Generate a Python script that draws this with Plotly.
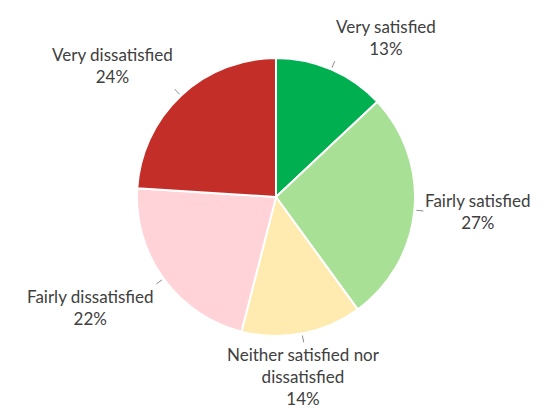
import numpy as np
import plotly.graph_objects as go

categories = ["Very satisfied", "Fairly satisfied", "Neither satisfied nor<br>dissatisfied",
              "Fairly dissatisfied", "Very dissatisfied"]
values = [13, 27, 14, 22, 24]
colors = ["#00B050", "#A8E095", "#FFEBB0", "#FFD3D7", "#C42E28"]

W, H = 543, 412
CX, CY, R = 276, 197, 139  # pie centre / radius in pixels

fig = go.Figure(go.Pie(
    labels=categories, values=values, sort=False, direction="clockwise", rotation=0,
    marker=dict(colors=colors, line=dict(color="white", width=2)),
    textinfo="none", hoverinfo="label+percent", showlegend=False,
    domain=dict(x=[(CX - R) / W, (CX + R) / W], y=[(H - CY - R) / H, (H - CY + R) / H]),
))

vals = np.array(values, dtype=float)
frac = vals / vals.sum()
mids = (np.cumsum(frac) - frac / 2) * 2 * np.pi  # clockwise from 12 o'clock

def px(x, y):
    return x / W, 1 - y / H

annotations, shapes = [], []
for cat, f, a in zip(categories, frac, mids):
    dx, dy = np.sin(a), -np.cos(a)
    # leader tick
    x0, y0 = px(CX + (R + 2) * dx, CY + (R + 2) * dy)
    x1, y1 = px(CX + (R + 9) * dx, CY + (R + 9) * dy)
    shapes.append(dict(type="line", xref="paper", yref="paper", x0=x0, y0=y0, x1=x1, y1=y1,
                       line=dict(color="#8C8C8C", width=1)))
    lx, ly = px(CX + (R + 10) * dx, CY + (R + 10) * dy)
    xa = "left" if dx > 0.25 else ("right" if dx < -0.25 else "center")
    ya = "bottom" if dy < -0.25 else ("top" if dy > 0.25 else "middle")
    annotations.append(dict(x=lx, y=ly, xref="paper", yref="paper", xanchor=xa, yanchor=ya,
                            text=f"{cat}<br>{round(f * 100):.0f}%", showarrow=False, align="center",
                            borderpad=0,
                            font=dict(family="Lato", size=17, color="#404040")))

fig.update_layout(width=W, height=H, margin=dict(l=0, r=0, t=0, b=0),
                  paper_bgcolor="white", plot_bgcolor="white",
                  annotations=annotations, shapes=shapes)
fig.write_html("out.html")
